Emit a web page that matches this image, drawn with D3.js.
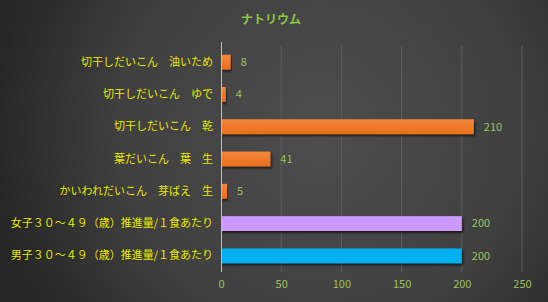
<!DOCTYPE html>
<html>
<head>
<meta charset="utf-8">
<script src="https://cdn.jsdelivr.net/npm/d3@7"></script>
<style>
  html, body { margin: 0; padding: 0; background: #333; }
</style>
</head>
<body>
<div class="root"></div>
<script>
// chart data
var categories = [
  "切干しだいこん　油いため",
  "切干しだいこん　ゆで",
  "切干しだいこん　乾",
  "葉だいこん　葉　生",
  "かいわれだいこん　芽ばえ　生",
  "女子３０～４９（歳）推進量/１食あたり",
  "男子３０～４９（歳）推進量/１食あたり"
];
var values = [8, 4, 210, 41, 5, 200, 200];
var barColors = ["#f07b2c", "#f07b2c", "#f07b2c", "#f07b2c", "#f07b2c", "#cc99ff", "#00b0f0"];
var xTicks = [0, 50, 100, 150, 200, 250];
var title = "ナトリウム";

var width = 548, height = 302;
var margin = { top: 46, right: 26, bottom: 30, left: 221 };

var svg = d3.select(".root").append("svg")
  .attr("width", width)
  .attr("height", height);

var defs = svg.append("defs");
var bg = defs.append("radialGradient")
  .attr("id", "bg")
  .attr("gradientUnits", "userSpaceOnUse")
  .attr("cx", 320).attr("cy", 130).attr("r", 330);
bg.append("stop").attr("offset", "0%").attr("stop-color", "#4d4d4d");
bg.append("stop").attr("offset", "60%").attr("stop-color", "#404040");
bg.append("stop").attr("offset", "100%").attr("stop-color", "#262626");

var orange = defs.append("linearGradient")
  .attr("id", "orange").attr("x1", 0).attr("y1", 0).attr("x2", 0).attr("y2", 1);
orange.append("stop").attr("offset", "0%").attr("stop-color", "#f5883a");
orange.append("stop").attr("offset", "100%").attr("stop-color", "#e86e1e");

var shadow = defs.append("filter").attr("id", "shadow")
  .attr("x", "-5%").attr("y", "-30%").attr("width", "115%").attr("height", "180%");
shadow.append("feDropShadow")
  .attr("dx", 1.5).attr("dy", 2).attr("stdDeviation", 1.2)
  .attr("flood-color", "#000").attr("flood-opacity", 0.6);

svg.append("rect")
  .attr("width", width).attr("height", height)
  .attr("fill", "url(#bg)");

var xScale = d3.scaleLinear().domain([0, 250])
  .range([margin.left, width - margin.right]);
var yScale = d3.scaleBand().domain(categories)
  .range([margin.top, height - margin.bottom])
  .paddingInner(0.54).paddingOuter(0.27);

// grid lines
svg.append("g")
  .selectAll("line")
  .data(xTicks.slice(1))
  .join("line")
  .attr("x1", d => xScale(d)).attr("x2", d => xScale(d))
  .attr("y1", margin.top).attr("y2", height - margin.bottom)
  .attr("stroke", "#5e5e5e")
  .attr("stroke-width", 1);

// bars
svg.append("g")
  .selectAll("rect")
  .data(values)
  .join("rect")
  .attr("x", xScale(0))
  .attr("y", (d, i) => yScale(categories[i]))
  .attr("width", d => xScale(d) - xScale(0))
  .attr("height", yScale.bandwidth())
  .attr("fill", (d, i) => i < 5 ? "url(#orange)" : barColors[i])
  .attr("filter", "url(#shadow)");

// axis line
svg.append("line")
  .attr("x1", xScale(0) + 0.5).attr("x2", xScale(0) + 0.5)
  .attr("y1", margin.top - 4).attr("y2", height - margin.bottom)
  .attr("stroke", "#bfbfbf").attr("stroke-width", 1);

// x axis tick labels
var xAxis = d3.axisBottom(xScale).tickValues(xTicks).tickSize(0).tickPadding(8);
var gx = svg.append("g")
  .attr("transform", "translate(0," + (height - margin.bottom) + ")")
  .call(xAxis);
gx.select(".domain").remove();
gx.selectAll("text")
  .attr("font-family", "'Noto Sans CJK JP', sans-serif")
  .attr("font-size", 11)
  .attr("fill", "#9bc15a");

// category labels
var yAxis = d3.axisLeft(yScale).tickSize(0).tickPadding(8);
var gy = svg.append("g")
  .attr("transform", "translate(" + (margin.left) + ",0)")
  .call(yAxis);
gy.select(".domain").remove();
gy.selectAll("text")
  .attr("font-family", "'Noto Sans CJK JP', sans-serif")
  .attr("font-size", 11)
  .attr("fill", "#e8e800");

// value labels
svg.append("g")
  .selectAll("text")
  .data(values)
  .join("text")
  .attr("x", d => xScale(d) + 10)
  .attr("y", (d, i) => yScale(categories[i]) + yScale.bandwidth() / 2)
  .attr("dy", "0.35em")
  .attr("font-family", "'Noto Sans CJK JP', sans-serif")
  .attr("font-size", 11)
  .attr("fill", "#9bc15a")
  .text(d => d);

// title
svg.append("text")
  .attr("x", 271)
  .attr("y", 24)
  .attr("text-anchor", "middle")
  .attr("font-family", "'Noto Sans CJK JP', sans-serif")
  .attr("font-size", 12)
  .attr("font-weight", 700)
  .attr("fill", "#8cc63e")
  .text(title);
</script>
</body>
</html>
